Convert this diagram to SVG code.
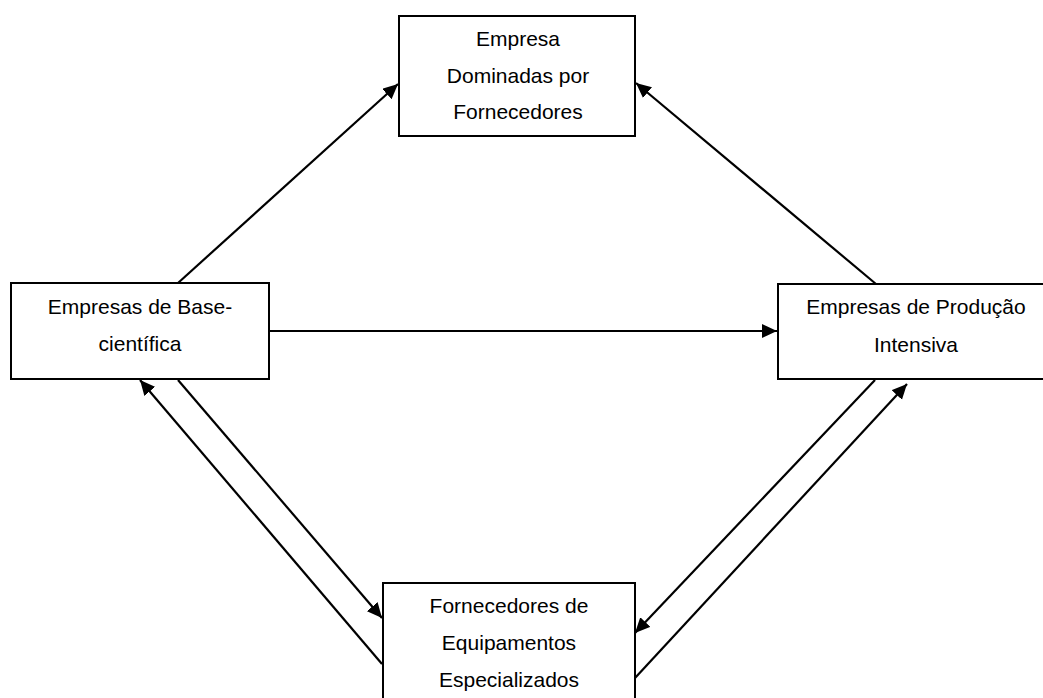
<svg xmlns="http://www.w3.org/2000/svg" width="1043" height="698" viewBox="0 0 1043 698">
<style>
.box{fill:#fff;stroke:#000;stroke-width:2}
.lbl{font-family:"Liberation Sans",Arial,sans-serif;font-size:21px;fill:#000;text-anchor:middle}
.con{stroke:#000;stroke-width:2.2;fill:none;marker-end:url(#ah)}
</style>
<defs>
<marker id="ah" markerUnits="userSpaceOnUse" markerWidth="16" markerHeight="15" refX="15" refY="7" orient="auto">
<path d="M0,0 L15,7 L0,14 z" fill="#000"/>
</marker>
</defs>
<rect width="1043" height="698" fill="#fff"/>
<g id="connectors">
<line class="con" x1="178" y1="283" x2="398" y2="84"/>
<line class="con" x1="876" y1="284" x2="636" y2="83"/>
<line class="con" x1="269" y1="331" x2="777" y2="331"/>
<line class="con" x1="178" y1="380" x2="382" y2="618"/>
<line class="con" x1="382" y1="664" x2="140" y2="380"/>
<line class="con" x1="875" y1="380" x2="635" y2="633"/>
<line class="con" x1="635" y1="678" x2="907" y2="384"/>
</g>
<g id="n_top">
<rect class="box" x="399" y="16" width="236" height="120"/>
<text class="lbl" x="518" y="46">Empresa</text>
<text class="lbl" x="518" y="83">Dominadas por</text>
<text class="lbl" x="518" y="119">Fornecedores</text>
</g>
<g id="n_left">
<rect class="box" x="11" y="283" width="258" height="96"/>
<text class="lbl" x="140" y="314">Empresas de Base-</text>
<text class="lbl" x="140" y="351">científica</text>
</g>
<g id="n_right">
<rect class="box" x="778" y="284" width="277" height="95"/>
<text class="lbl" x="916" y="314">Empresas de Produção</text>
<text class="lbl" x="916" y="352">Intensiva</text>
</g>
<g id="n_bottom">
<rect class="box" x="383" y="583" width="252" height="130"/>
<text class="lbl" x="509" y="613">Fornecedores de</text>
<text class="lbl" x="509" y="650">Equipamentos</text>
<text class="lbl" x="509" y="687">Especializados</text>
</g>
</svg>
